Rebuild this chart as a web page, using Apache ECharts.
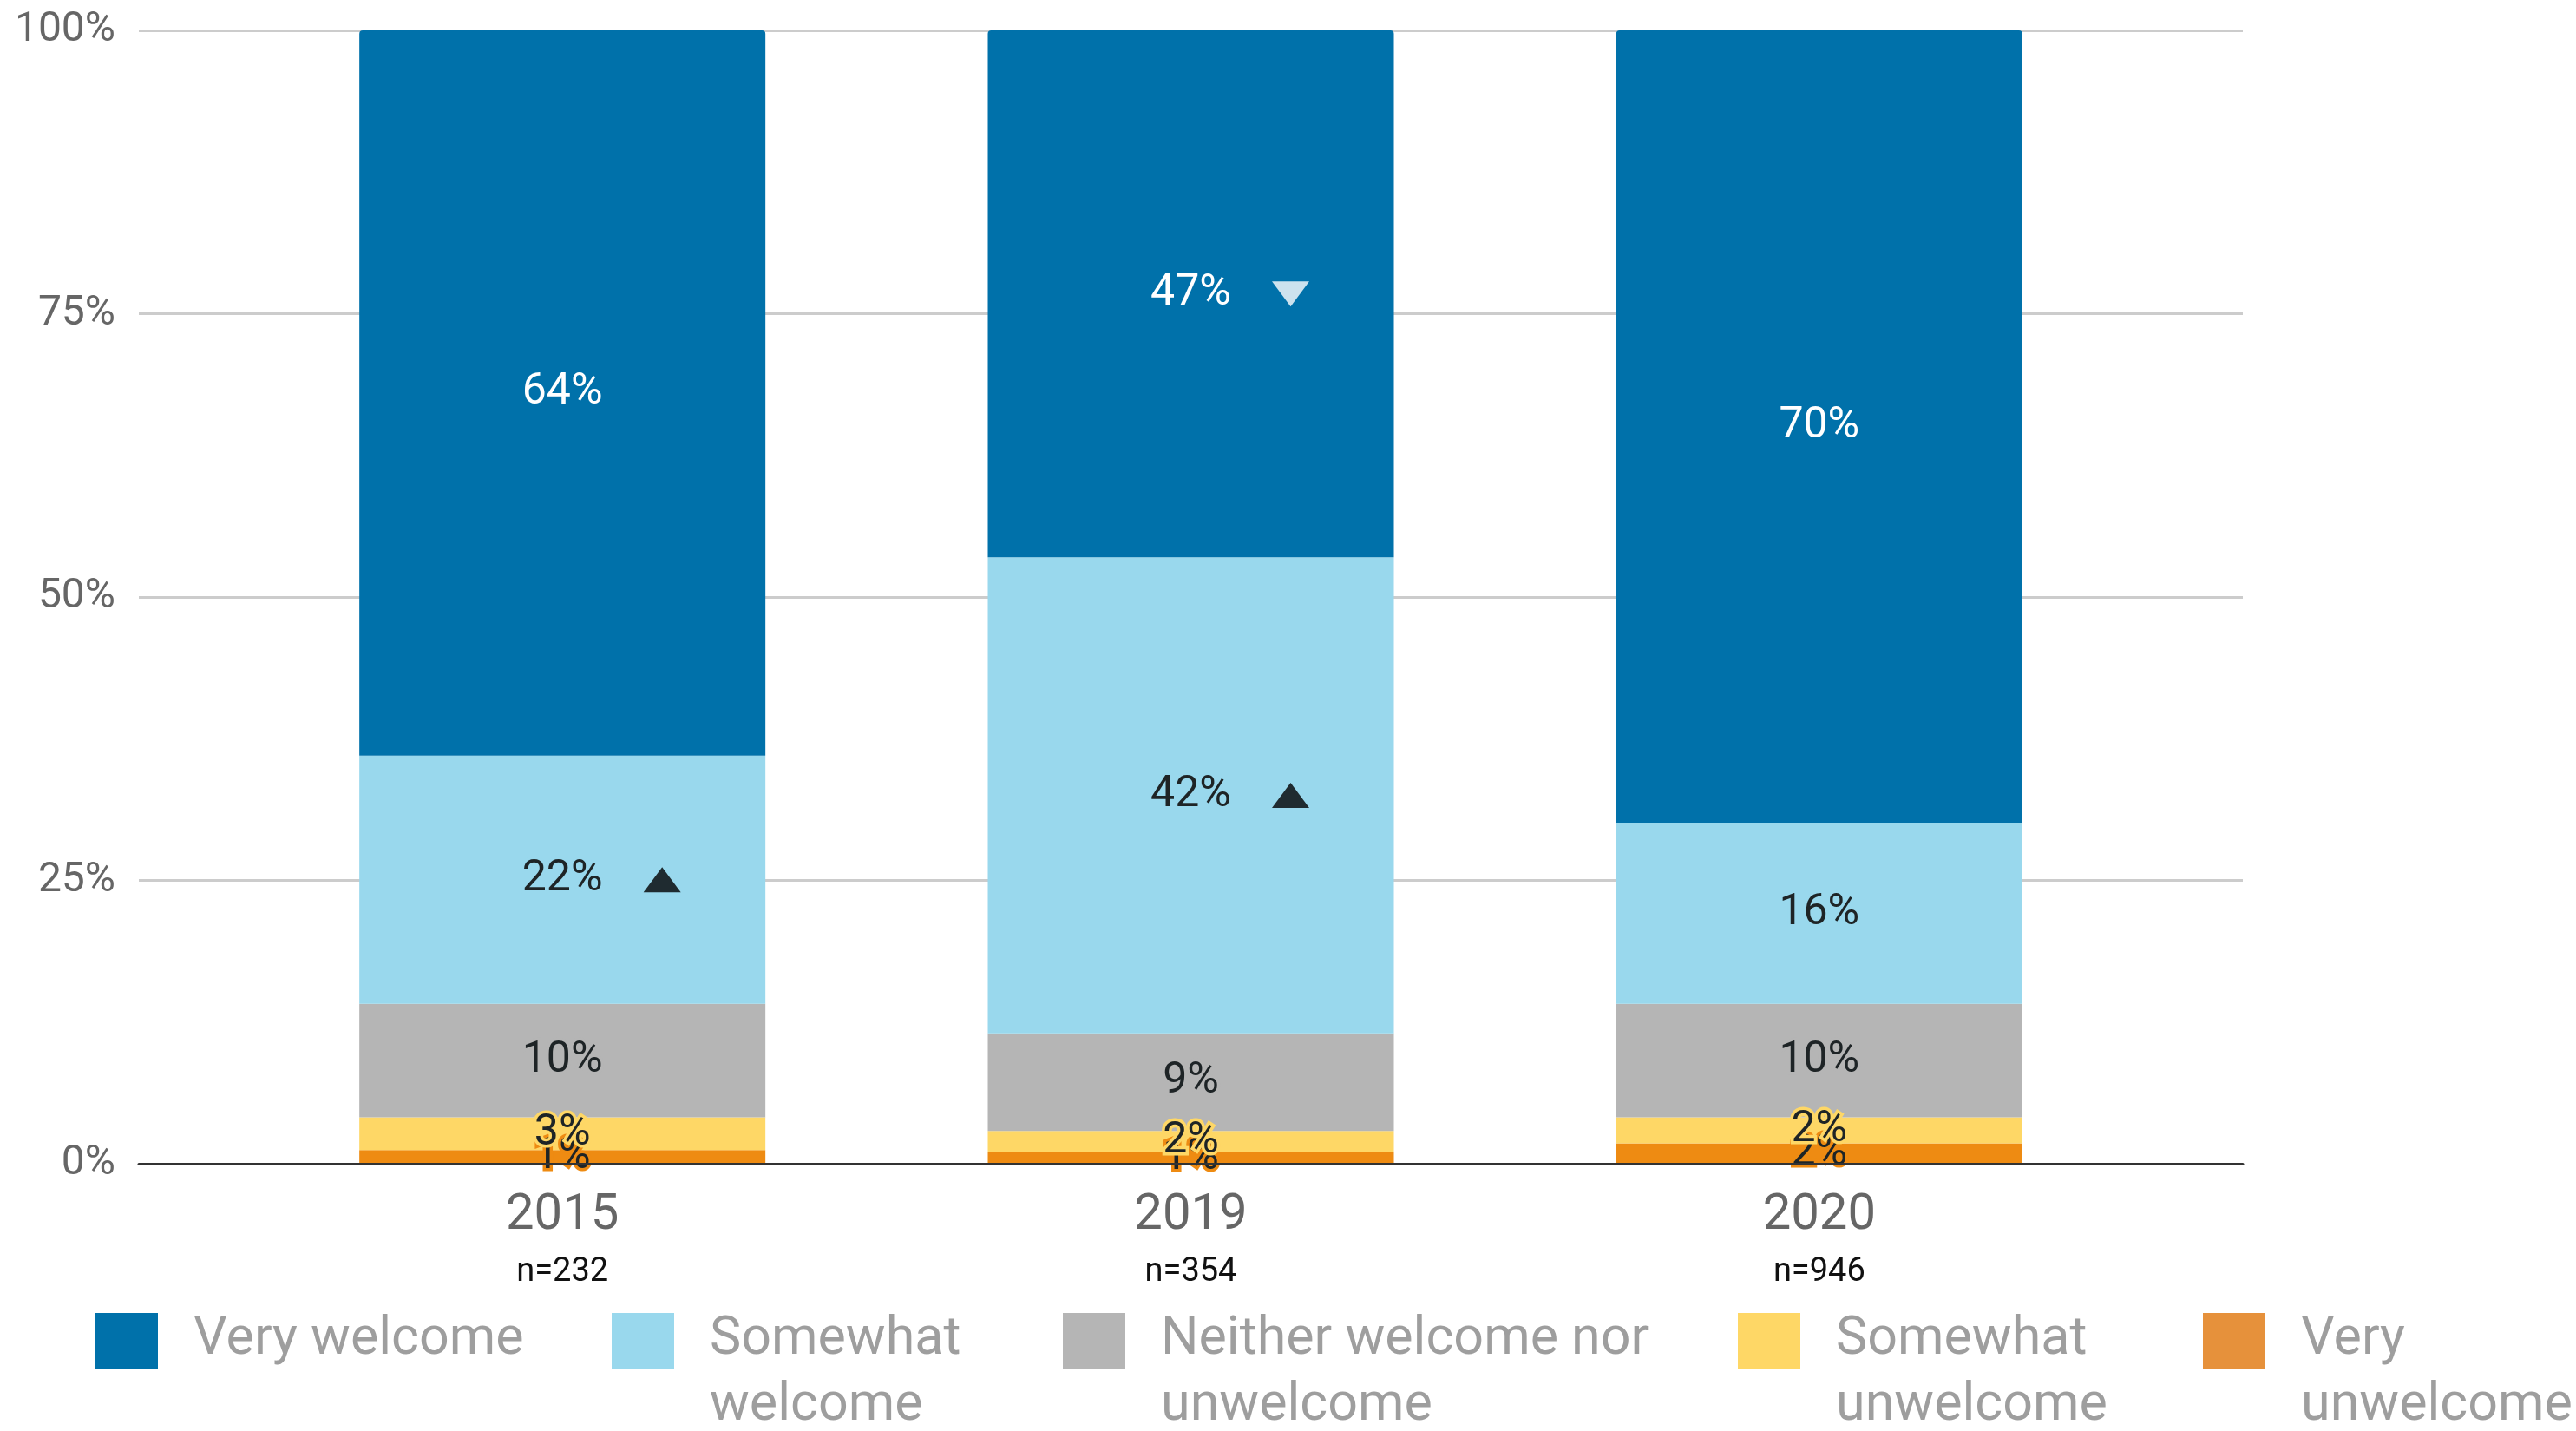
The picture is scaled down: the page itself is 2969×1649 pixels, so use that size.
<!DOCTYPE html>
<html>
<head>
<meta charset="utf-8">
<script src="https://cdn.jsdelivr.net/npm/echarts@6/dist/echarts.min.js"></script>
<style>
html,body{margin:0;padding:0;background:#fff;}
#chart{width:2969px;height:1649px;}
</style>
</head>
<body>
<div id="chart"></div>
<script>
// ---- data (stacked bottom to top) ----
const categories = ['2015', '2019', '2020'];
const sampleSizes = ['n=232', 'n=354', 'n=946'];
const seriesNames = ['Very unwelcome', 'Somewhat unwelcome', 'Neither welcome nor unwelcome', 'Somewhat welcome', 'Very welcome'];
const veryUnwelcome = [1.2, 1.0, 1.8];
const somewhatUnwelcome = [2.9, 1.9, 2.3];
const neitherWelcome = [10.0, 8.6, 10.0];
const somewhatWelcome = [21.9, 42.0, 16.0];
const veryWelcome = [64.0, 46.5, 69.9];
const yTicks = [0, 25, 50, 75, 100];
// significance markers: [category index, series index, direction]
const markers = [[0, 3, 'up'], [1, 3, 'up'], [1, 4, 'down']];

const seriesValues = [veryUnwelcome, somewhatUnwelcome, neitherWelcome, somewhatWelcome, veryWelcome];
const barColors = ['#ee8b12', '#fed766', '#b5b5b5', '#99d8ed', '#0071aa'];
const legendColors = ['#e6913b', '#fed766', '#b5b5b5', '#99d8ed', '#0071aa'];
const legendLabels = ['Very\nunwelcome', 'Somewhat\nunwelcome', 'Neither welcome nor\nunwelcome', 'Somewhat\nwelcome', 'Very welcome'];
const FONT = 'Roboto, "Noto Sans", sans-serif';

const chart = echarts.init(document.getElementById('chart'), null, {renderer: 'canvas'});

const barSeries = seriesNames.map((name, i) => ({
  name: name,
  type: 'bar',
  stack: 'total',
  xAxisIndex: 1,
  yAxisIndex: 1,
  barWidth: 468,
  data: seriesValues[i],
  itemStyle: {color: barColors[i], borderRadius: i === 4 ? [4, 4, 0, 0] : 0},
  label: {
    show: true,
    position: 'inside',
    formatter: p => Math.round(p.value) + '%',
    fontFamily: FONT,
    fontSize: 50,
    color: i === 4 ? '#ffffff' : '#1e2426',
    textBorderColor: barColors[i],
    textBorderWidth: i === 4 ? 3 : 7
  },
  z: 2
}));

function markerPoint(m) {
  const ci = m[0], si = m[1];
  let base = 0;
  for (let k = 0; k < si; k++) base += seriesValues[k][ci];
  return [categories[ci], base + seriesValues[si][ci] / 2];
}

const upData = markers.filter(m => m[2] === 'up').map(markerPoint);
const downData = markers.filter(m => m[2] === 'down').map(markerPoint);

const legendLefts = [2539, 2003, 1225, 705, 110];
const legends = seriesNames.map((name, i) => {
  const wrapped = legendLabels[i].indexOf('\n') >= 0;
  return {
    data: [{name: name, itemStyle: {color: legendColors[i]}}],
    left: legendLefts[i],
    top: wrapped ? 1427 : 1503,
    padding: 0,
    icon: 'rect',
    itemWidth: 72,
    itemHeight: 64,
    selectedMode: false,
    // a leading blank line keeps the first text line level with the swatch
    formatter: () => (wrapped ? ' \n' : '') + legendLabels[i],
    textStyle: {
      fontFamily: FONT,
      fontSize: 61,
      lineHeight: 76,
      color: '#9e9e9e',
      padding: [8, 0, 0, 36]
    }
  };
});

const option = {
  backgroundColor: '#ffffff',
  animation: false,
  legend: legends,
  grid: [
    {left: 160, right: 384, top: 35, bottom: 308},
    {left: 286, width: 2173, top: 35, bottom: 308}
  ],
  xAxis: [
    {
      gridIndex: 0, type: 'value', min: 0, max: 1,
      axisLine: {show: true, onZero: true, lineStyle: {color: '#333333', width: 3}},
      axisTick: {show: false}, axisLabel: {show: false}, splitLine: {show: false},
      z: 5
    },
    {
      gridIndex: 1, type: 'category', data: categories,
      axisLine: {show: false}, axisTick: {show: false},
      axisLabel: {
        margin: 25,
        formatter: (v, idx) => '{y|' + v + '}\n{n|' + sampleSizes[idx] + '}',
        rich: {
          y: {fontFamily: FONT, fontSize: 58, lineHeight: 70, color: '#666666'},
          n: {fontFamily: FONT, fontSize: 38, lineHeight: 60, color: '#111111'}
        }
      }
    }
  ],
  yAxis: [
    {
      gridIndex: 0, type: 'value', min: yTicks[0], max: yTicks[yTicks.length - 1], interval: 25,
      axisLine: {show: false}, axisTick: {show: false},
      axisLabel: {formatter: '{value}%', fontFamily: FONT, fontSize: 48, color: '#666666', margin: 27},
      splitLine: {show: true, lineStyle: {color: '#cccccc', width: 3}}
    },
    {
      gridIndex: 1, type: 'value', min: 0, max: 100, interval: 25, show: false,
      splitLine: {show: false}
    }
  ],
  series: barSeries.concat([
    {
      type: 'scatter', xAxisIndex: 1, yAxisIndex: 1,
      symbol: 'triangle', symbolSize: [43, 29], symbolOffset: [115, 0],
      itemStyle: {color: '#000000'}, data: upData, z: 4, silent: true
    },
    {
      type: 'scatter', xAxisIndex: 1, yAxisIndex: 1,
      symbol: 'triangle', symbolRotate: 180, symbolSize: [43, 29], symbolOffset: [115, 0],
      itemStyle: {color: '#ffffff'}, data: downData, z: 4, silent: true
    }
  ])
};

chart.setOption(option);
</script>
</body>
</html>
